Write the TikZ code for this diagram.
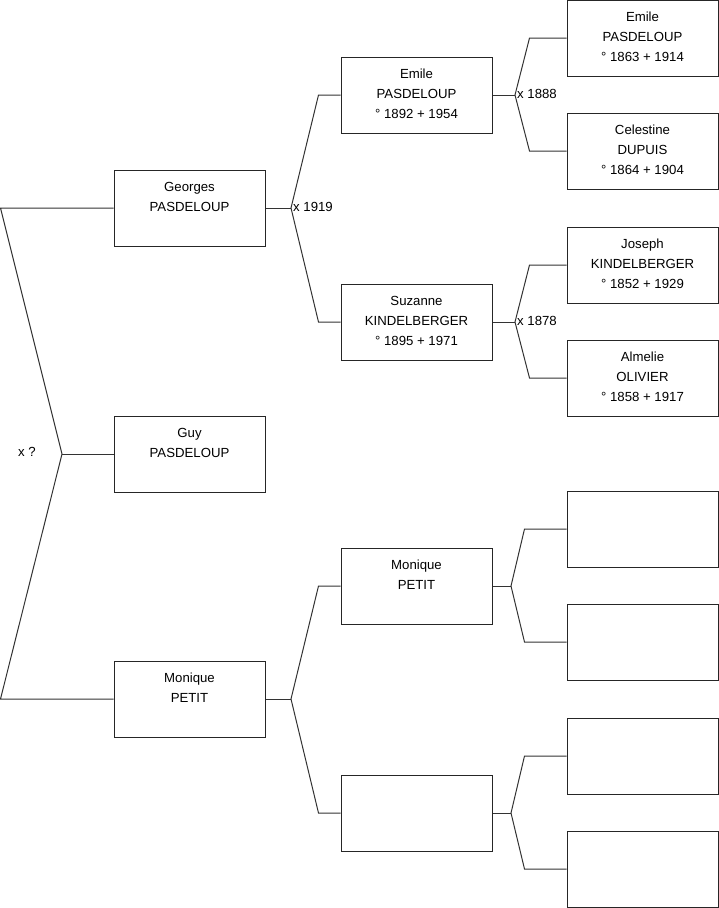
\documentclass[tikz,border=0pt]{standalone}
\usepackage{fontspec}
\setmainfont{Liberation Sans}
\begin{document}
\begin{tikzpicture}[x=1pt,y=-1pt,font=\fontsize{13.2}{20}\selectfont,
  box/.style={draw=black!85,line width=1pt,minimum width=151pt,minimum height=76pt,inner sep=0pt},
  txt/.style={anchor=north,align=center,inner sep=0pt,yshift=-12.5pt},
  lnk/.style={draw=black!80,line width=1pt},
  mar/.style={anchor=west,inner sep=0pt,xshift=2pt,yshift=1pt}]
\useasboundingbox (0,0) rectangle (719,908);
% generation 1
\node[box] (georges) at (189.5,208) {};
\node[txt] (georgesT) at (georges.north) {Georges\\PASDELOUP};
\node[box] (guy)     at (189.5,454) {};
\node[txt] (guyT)    at (guy.north) {Guy\\PASDELOUP};
\node[box] (monique) at (189.5,699) {};
\node[txt] (moniqueT) at (monique.north) {Monique\\PETIT};
% generation 2
\node[box] (emile)   at (416.5,95)  {};
\node[txt] (emileT)  at (emile.north) {Emile\\PASDELOUP\\° 1892 + 1954};
\node[box] (suzanne) at (416.5,322) {};
\node[txt] (suzanneT) at (suzanne.north) {Suzanne\\KINDELBERGER\\° 1895 + 1971};
\node[box] (moniqueB) at (416.5,586) {};
\node[txt] (moniqueBT) at (moniqueB.north) {Monique\\PETIT};
\node[box] (unknownB) at (416.5,813) {};
% generation 3
\node[box] (emileP)   at (642.5,38)  {};
\node[txt] (emilePT)  at (emileP.north) {Emile\\PASDELOUP\\° 1863 + 1914};
\node[box] (celestine) at (642.5,151) {};
\node[txt] (celestineT) at (celestine.north) {Celestine\\DUPUIS\\° 1864 + 1904};
\node[box] (joseph)   at (642.5,265) {};
\node[txt] (josephT)  at (joseph.north) {Joseph\\KINDELBERGER\\° 1852 + 1929};
\node[box] (almelie)  at (642.5,378) {};
\node[txt] (almelieT) at (almelie.north) {Almelie\\OLIVIER\\° 1858 + 1917};
\node[box] (unknownC) at (642.5,529) {};
\node[box] (unknownD) at (642.5,642) {};
\node[box] (unknownE) at (642.5,756) {};
\node[box] (unknownF) at (642.5,869) {};
% unions
\coordinate (f0) at (62,454);
\coordinate (c0a) at (0.5,208);
\coordinate (c0b) at (0.5,699);
\coordinate (f1) at (291,208);
\coordinate (f2) at (291,699);
\coordinate (f3) at (515,95);
\coordinate (f4) at (515,322);
\coordinate (f5) at (511,586);
\coordinate (f6) at (511,813);
\draw[lnk] (georges.west) -- (c0a) -- (f0) -- (c0b) -- (monique.west);
\draw[lnk] (f0) -- (guy.west);
\node (m0) at (27,452) {x ?};
\draw[lnk] (georges.east) -- (f1);
\draw[lnk] (emile.west) -- ++(-22,0) -- (f1) -- ([xshift=-22pt]suzanne.west) -- (suzanne.west);
\node[mar] (m1) at (f1) {x 1919};
\draw[lnk] (monique.east) -- (f2);
\draw[lnk] (moniqueB.west) -- ++(-22,0) -- (f2) -- ([xshift=-22pt]unknownB.west) -- (unknownB.west);
\draw[lnk] (emile.east) -- (f3);
\draw[lnk] (emileP.west) -- ++(-37,0) -- (f3) -- ([xshift=-37pt]celestine.west) -- (celestine.west);
\node[mar] (m3) at (f3) {x 1888};
\draw[lnk] (suzanne.east) -- (f4);
\draw[lnk] (joseph.west) -- ++(-37,0) -- (f4) -- ([xshift=-37pt]almelie.west) -- (almelie.west);
\node[mar] (m4) at (f4) {x 1878};
\draw[lnk] (moniqueB.east) -- (f5);
\draw[lnk] (unknownC.west) -- ++(-42,0) -- (f5) -- ([xshift=-42pt]unknownD.west) -- (unknownD.west);
\draw[lnk] (unknownB.east) -- (f6);
\draw[lnk] (unknownE.west) -- ++(-42,0) -- (f6) -- ([xshift=-42pt]unknownF.west) -- (unknownF.west);
\end{tikzpicture}
\end{document}
